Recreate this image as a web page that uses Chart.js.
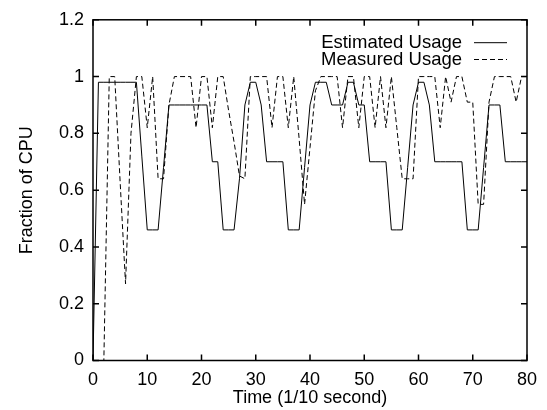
<!DOCTYPE html>
<html>
<head>
<meta charset="utf-8">
<script src="https://cdn.jsdelivr.net/npm/chart.js@4/dist/chart.umd.min.js"></script>
<style>
  html, body { margin: 0; padding: 0; background: #fff; }
  #box { width: 547px; height: 410px; }
</style>
</head>
<body>
<div id="box"><canvas id="grafico"></canvas></div>
<script>
// tempo em 1/10 s
const tempos = [0, 1, 2, 3, 4, 5, 6, 7, 8, 9, 10, 11, 12, 13, 14, 15, 16, 17, 18, 19, 20,
  21, 22, 23, 24, 25, 26, 27, 28, 29, 30, 31, 32, 33, 34, 35, 36, 37, 38, 39, 40,
  41, 42, 43, 44, 45, 46, 47, 48, 49, 50, 51, 52, 53, 54, 55, 56, 57, 58, 59, 60,
  61, 62, 63, 64, 65, 66, 67, 68, 69, 70, 71, 72, 73, 74, 75, 76, 77, 78, 79, 80];

const estimado = [0, 0.98, 0.98, 0.98, 0.98, 0.98, 0.98, 0.98, 0.98, 0.72,
  0.46, 0.46, 0.46, 0.68, 0.90, 0.90, 0.90, 0.90, 0.90, 0.90,
  0.90, 0.90, 0.70, 0.70, 0.46, 0.46, 0.46, 0.64, 0.90, 0.98,
  0.98, 0.90, 0.70, 0.70, 0.70, 0.70, 0.46, 0.46, 0.46, 0.68,
  0.90, 0.98, 0.98, 0.98, 0.90, 0.90, 0.90, 0.98, 0.98, 0.90,
  0.90, 0.70, 0.70, 0.70, 0.70, 0.46, 0.46, 0.46, 0.68, 0.90,
  0.98, 0.98, 0.90, 0.70, 0.70, 0.70, 0.70, 0.70, 0.70, 0.46,
  0.46, 0.46, 0.68, 0.90, 0.90, 0.90, 0.70, 0.70, 0.70, 0.70, 0.70];

const medido = [0, 0, 0, 1, 1, 0.63, 0.27, 0.80, 1, 1,
  0.82, 1, 0.64, 0.64, 0.90, 1, 1, 1, 1, 0.82,
  1, 1, 0.82, 1, 1, 0.88, 0.77, 0.65, 0.64, 1,
  1, 1, 1, 0.82, 1, 1, 0.82, 1, 0.78, 0.55,
  0.75, 0.95, 1, 1, 1, 1, 0.82, 1, 1, 0.82,
  1, 1, 0.82, 1, 0.82, 1, 0.82, 0.64, 0.64, 0.64,
  1, 1, 1, 1, 0.82, 1, 0.91, 1, 1, 0.91,
  0.91, 0.55, 0.55, 0.91, 1, 1, 1, 1, 0.91, 1, 1];

const ticksX = [0, 10, 20, 30, 40, 50, 60, 70, 80];
const ticksY = [0, 0.2, 0.4, 0.6, 0.8, 1, 1.2];

const fonte = { family: "'Liberation Sans', Arial, Helvetica, sans-serif", size: 18 };

// moldura com marcas para dentro, nos quatro lados
const moldura = {
  id: "moldura",
  afterDatasetsDraw(chart) {
    const { ctx, chartArea: a, scales } = chart;
    const tam = 6;
    ctx.save();
    ctx.strokeStyle = "#000";
    ctx.lineWidth = 1.5;
    ctx.strokeRect(a.left, a.top, a.right - a.left, a.bottom - a.top);
    ctx.beginPath();
    ticksX.forEach(v => {
      const px = scales.x.getPixelForValue(v);
      ctx.moveTo(px, a.bottom); ctx.lineTo(px, a.bottom - tam);
      ctx.moveTo(px, a.top); ctx.lineTo(px, a.top + tam);
    });
    ticksY.forEach(v => {
      const py = scales.y.getPixelForValue(v);
      ctx.moveTo(a.left, py); ctx.lineTo(a.left + tam, py);
      ctx.moveTo(a.right, py); ctx.lineTo(a.right - tam, py);
    });
    ctx.stroke();
    ctx.restore();
  }
};

// legenda no estilo gnuplot: texto alinhado à direita, amostra da linha depois
const legenda = {
  id: "legenda",
  afterDraw(chart) {
    const { ctx } = chart;
    const xTexto = 462, x1 = 474, x2 = 507;
    const linhas = [42.7, 59.5];
    ctx.save();
    ctx.font = "18.5px " + fonte.family;
    ctx.fillStyle = "#000";
    ctx.textAlign = "right";
    ctx.textBaseline = "middle";
    chart.data.datasets.forEach((ds, i) => {
      const y = linhas[i];
      ctx.fillText(ds.label, xTexto, y);
      ctx.strokeStyle = ds.borderColor;
      ctx.lineWidth = ds.borderWidth;
      ctx.setLineDash(ds.borderDash || []);
      ctx.beginPath();
      ctx.moveTo(x1, y); ctx.lineTo(x2, y);
      ctx.stroke();
    });
    ctx.restore();
  }
};

new Chart(document.getElementById("grafico"), {
  type: "line",
  data: {
    datasets: [
      {
        label: "Estimated Usage",
        data: tempos.map((t, i) => ({ x: t, y: estimado[i] })),
        borderColor: "#000",
        borderWidth: 1,
        pointRadius: 0,
        tension: 0
      },
      {
        label: "Measured Usage",
        data: tempos.map((t, i) => ({ x: t, y: medido[i] })),
        borderColor: "#000",
        borderWidth: 1,
        borderDash: [5, 3],
        pointRadius: 0,
        tension: 0
      }
    ]
  },
  options: {
    responsive: true,
    maintainAspectRatio: false,
    animation: false,
    layout: { padding: { left: 0, top: 15, right: 20, bottom: 0 } },
    plugins: {
      legend: { display: false },
      tooltip: { enabled: false }
    },
    scales: {
      x: {
        type: "linear",
        min: 0,
        max: 80,
        afterBuildTicks: s => { s.ticks = ticksX.map(v => ({ value: v })); },
        afterFit: s => { s.height = 49.5; },
        grid: { display: false, drawTicks: false },
        border: { display: false },
        ticks: { font: fonte, color: "#000", padding: 8.7, maxRotation: 0, callback: v => String(v) },
        title: { display: true, text: "Time (1/10 second)", font: fonte, color: "#000", padding: { top: 0, bottom: 1.2 } }
      },
      y: {
        min: 0,
        max: 1.2,
        afterBuildTicks: s => { s.ticks = ticksY.map(v => ({ value: v })); },
        afterFit: s => { s.width = 93; },
        grid: { display: false, drawTicks: false },
        border: { display: false },
        ticks: { font: fonte, color: "#000", padding: 9, callback: v => String(Math.round(v * 10) / 10) },
        title: { display: true, text: "Fraction of CPU", font: fonte, color: "#000", padding: { top: 16, bottom: 0 } }
      }
    }
  },
  plugins: [moldura, legenda]
});
</script>
</body>
</html>
